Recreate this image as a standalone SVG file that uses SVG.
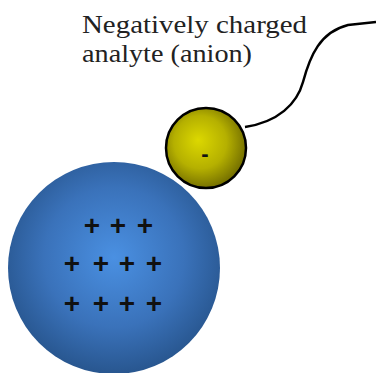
<svg xmlns="http://www.w3.org/2000/svg" width="376" height="373" viewBox="0 0 376 373">
<defs>
<radialGradient id="blueGrad" cx="0.5" cy="0.45" r="0.55">
<stop offset="0" stop-color="#4a90e2"/>
<stop offset="0.6" stop-color="#3a72ba"/>
<stop offset="1" stop-color="#28568f"/>
</radialGradient>
<radialGradient id="yellowGrad" cx="0.45" cy="0.45" r="0.6" fx="0.4" fy="0.4">
<stop offset="0" stop-color="#dcd800"/>
<stop offset="0.55" stop-color="#b5b000"/>
<stop offset="1" stop-color="#6a6500"/>
</radialGradient>
</defs>
<style>
.label{font-family:"Liberation Serif","DejaVu Serif",serif;font-size:26px;fill:#222;}
.plus{font-family:"Liberation Sans","DejaVu Sans",sans-serif;font-size:28px;font-weight:bold;fill:#111;text-anchor:middle;}
.wire{fill:none;stroke:#000;stroke-width:2.5;}
</style>
<rect width="376" height="373" fill="#fff"/>
<g id="label">
<text class="label" x="82" y="33" textLength="225" lengthAdjust="spacingAndGlyphs">Negatively charged</text>
<text class="label" x="82" y="62" textLength="170" lengthAdjust="spacingAndGlyphs">analyte (anion)</text>
</g>
<g id="connectors">
<path class="wire" d="M245,127 C278,122 297,104 303,82 C310,56 320,32 348,25 L376,22"/>
</g>
<g id="cation">
<circle cx="114" cy="268" r="106" fill="url(#blueGrad)"/>
<text class="plus" x="92" y="235">+</text>
<text class="plus" x="118" y="235">+</text>
<text class="plus" x="145" y="235">+</text>
<text class="plus" x="72" y="273">+</text>
<text class="plus" x="101" y="273">+</text>
<text class="plus" x="127" y="273">+</text>
<text class="plus" x="154" y="273">+</text>
<text class="plus" x="72" y="313">+</text>
<text class="plus" x="101" y="313">+</text>
<text class="plus" x="127" y="313">+</text>
<text class="plus" x="154" y="313">+</text>
</g>
<g id="anion">
<circle cx="206" cy="148" r="40" fill="url(#yellowGrad)" stroke="#000" stroke-width="2.5"/>
<text x="205" y="161" font-family="Liberation Sans, DejaVu Sans, sans-serif" font-size="22" font-weight="bold" fill="#111" text-anchor="middle">-</text>
</g>
</svg>
